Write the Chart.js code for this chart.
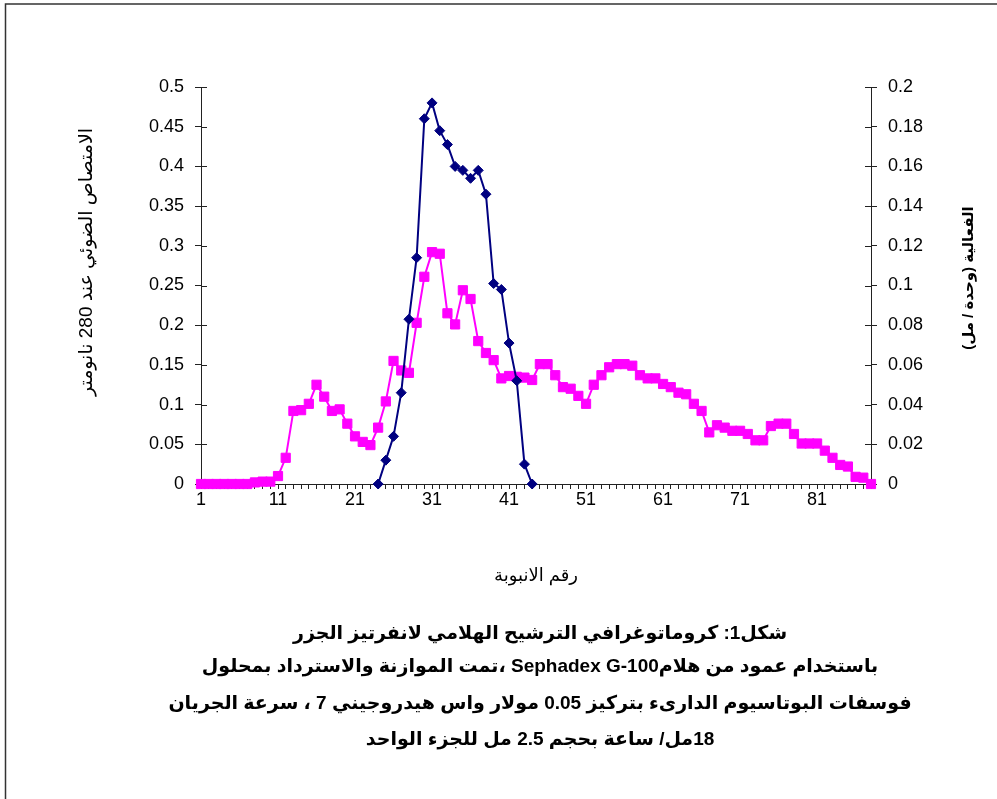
<!DOCTYPE html>
<html lang="ar">
<head>
<meta charset="utf-8">
<script src="https://cdn.jsdelivr.net/npm/chart.js@4.4.1/dist/chart.umd.min.js"></script>
<style>
  html, body { margin: 0; padding: 0; background: #fff; }
  #wadah { position: relative; width: 997px; height: 799px; }
</style>
</head>
<body>
<div id="wadah"><canvas id="chartFraksi" width="997" height="799"></canvas></div>
<script>
// nomor tabung fraksi (sumbu x)
const nomorTabung = [
  1, 2, 3, 4, 5, 6, 7, 8, 9, 10, 11, 12, 13, 14, 15, 16, 17, 18, 19, 20,
  21, 22, 23, 24, 25, 26, 27, 28, 29, 30, 31, 32, 33, 34, 35, 36, 37, 38, 39, 40,
  41, 42, 43, 44, 45, 46, 47, 48, 49, 50, 51, 52, 53, 54, 55, 56, 57, 58, 59, 60,
  61, 62, 63, 64, 65, 66, 67, 68, 69, 70, 71, 72, 73, 74, 75, 76, 77, 78, 79, 80,
  81, 82, 83, 84, 85, 86, 87, 88
];

// absorbansi 280 nm (sumbu kiri)
const absorbansi280 = [
  0, 0, 0, 0, 0, 0, 0, 0.002, 0.003, 0.003,
  0.010, 0.033, 0.092, 0.093, 0.101, 0.125, 0.110, 0.092, 0.094, 0.076,
  0.060, 0.053, 0.049, 0.071, 0.104, 0.155, 0.143, 0.140, 0.203, 0.261,
  0.292, 0.290, 0.215, 0.201, 0.244, 0.233, 0.180, 0.165, 0.156, 0.133,
  0.136, 0.135, 0.134, 0.131, 0.151, 0.151, 0.137, 0.122, 0.120, 0.111,
  0.101, 0.125, 0.137, 0.147, 0.151, 0.151, 0.149, 0.137, 0.133, 0.133,
  0.126, 0.122, 0.115, 0.113, 0.101, 0.092, 0.065, 0.074, 0.071, 0.067,
  0.067, 0.063, 0.055, 0.055, 0.073, 0.076, 0.076, 0.063, 0.051, 0.051,
  0.051, 0.042, 0.033, 0.024, 0.022, 0.009, 0.008, 0
];

// aktivitas enzim unit/ml (sumbu kanan), hanya tabung 24-44
const aktivitasEnzim = [
  null, null, null, null, null, null, null, null, null, null,
  null, null, null, null, null, null, null, null, null, null,
  null, null, null, 0, 0.012, 0.024, 0.046, 0.083, 0.114, 0.184,
  0.192, 0.178, 0.171, 0.160, 0.158, 0.154, 0.158, 0.146, 0.101, 0.098,
  0.071, 0.052, 0.010, 0, null, null, null, null, null, null,
  null, null, null, null, null, null, null, null, null, null,
  null, null, null, null, null, null, null, null, null, null,
  null, null, null, null, null, null, null, null, null, null,
  null, null, null, null, null, null, null, null
];

const tickKiri = [0, 0.05, 0.1, 0.15, 0.2, 0.25, 0.3, 0.35, 0.4, 0.45, 0.5];
const tickKanan = [0, 0.02, 0.04, 0.06, 0.08, 0.1, 0.12, 0.14, 0.16, 0.18, 0.2];
const labelSumbuX = [1, 11, 21, 31, 41, 51, 61, 71, 81];

const judulKiri = 'الامتصاص الضوئي عند 280 نانومتر';
const judulKanan = 'الفعالية (وحدة / مل)';
const judulBawah = 'رقم الانبوبة';

// keterangan gambar (4 baris)
const keterangan = [
  'شكل1: كروماتوغرافي الترشيح الهلامي لانفرتيز الجزر',
  'باستخدام عمود من هلامSephadex G-100 ،تمت الموازنة والاسترداد بمحلول',
  'فوسفات البوتاسيوم الدارىء بتركيز 0.05 مولار واس هيدروجيني 7 ، سرعة الجريان',
  '18مل/ ساعة بحجم 2.5 مل للجزء الواحد'
];

const fontDasar = "'Liberation Sans', Arial, 'DejaVu Sans', sans-serif";
const warnaSumbu = '#222';

const hiasanGrafik = {
  id: 'hiasanGrafik',
  beforeDatasetsDraw(chart) {
    const c = chart.ctx;
    const area = chart.chartArea;
    const yKiri = chart.scales.y;
    const yKanan = chart.scales.y1;
    c.save();
    c.strokeStyle = warnaSumbu;
    c.lineWidth = 1;
    // sisi dalam tanda tick (tick menyilang)
    yKiri.ticks.forEach(t => {
      const py = Math.round(yKiri.getPixelForValue(t.value)) + 0.5;
      c.beginPath();
      c.moveTo(area.left, py);
      c.lineTo(area.left + 6, py);
      c.stroke();
    });
    yKanan.ticks.forEach(t => {
      const py = Math.round(yKanan.getPixelForValue(t.value)) + 0.5;
      c.beginPath();
      c.moveTo(area.right - 6, py);
      c.lineTo(area.right, py);
      c.stroke();
    });
    c.restore();
  },
  afterDraw(chart) {
    const c = chart.ctx;
    c.save();

    // bingkai atas dan kiri
    c.strokeStyle = '#333';
    c.lineWidth = 1.5;
    c.beginPath();
    c.moveTo(5.5, 799);
    c.lineTo(5.5, 4);
    c.lineTo(997, 4);
    c.stroke();

    c.fillStyle = '#000';
    c.textAlign = 'center';
    c.textBaseline = 'middle';
    c.direction = 'rtl';

    // judul sumbu y, diputar
    c.save();
    c.translate(87, 262);
    c.rotate(-Math.PI / 2);
    c.font = '19px ' + fontDasar;
    c.fillText(judulKiri, 0, 0);
    c.restore();

    c.save();
    c.translate(969, 278);
    c.rotate(-Math.PI / 2);
    c.font = 'bold 15px ' + fontDasar;
    c.fillText(judulKanan, 0, 0);
    c.restore();

    // keterangan di bawah grafik
    c.font = 'bold 19px ' + fontDasar;
    const posY = [634, 667, 704, 740];
    keterangan.forEach((baris, i) => {
      c.fillText(baris, 540, posY[i]);
    });

    c.restore();
  }
};

const ctx = document.getElementById('chartFraksi').getContext('2d');

new Chart(ctx, {
  type: 'line',
  data: {
    labels: nomorTabung,
    datasets: [
      {
        label: judulKiri,
        data: absorbansi280,
        yAxisID: 'y',
        borderColor: '#ff00ff',
        backgroundColor: '#ff00ff',
        borderWidth: 2,
        pointStyle: 'rect',
        pointRadius: 6.5,
        pointBorderWidth: 1,
        tension: 0,
        clip: false,
        order: 1
      },
      {
        label: judulKanan,
        data: aktivitasEnzim,
        yAxisID: 'y1',
        borderColor: '#000080',
        backgroundColor: '#000080',
        borderWidth: 2,
        pointStyle: 'rectRot',
        pointRadius: 5,
        pointBorderWidth: 1,
        tension: 0,
        clip: false,
        order: 0
      }
    ]
  },
  options: {
    responsive: false,
    animation: false,
    layout: {
      padding: { left: 0, right: 0, top: 87, bottom: 0 }
    },
    plugins: {
      legend: { display: false },
      tooltip: { enabled: false }
    },
    scales: {
      x: {
        type: 'category',
        offset: false,
        border: { display: true, color: warnaSumbu, width: 1 },
        grid: { drawOnChartArea: false, drawTicks: true, tickLength: 5, color: warnaSumbu },
        ticks: {
          autoSkip: false,
          maxRotation: 0,
          minRotation: 0,
          padding: 0,
          color: '#000',
          font: { family: fontDasar, size: 18 },
          callback: function(val, i) {
            const n = nomorTabung[i];
            return labelSumbuX.includes(n) ? String(n) : '';
          }
        },
        title: {
          display: true,
          text: judulBawah,
          color: '#000',
          font: { family: fontDasar, size: 18 },
          padding: { top: 0, bottom: 212 }
        },
        afterFit: function(scale) {
          scale.height = 315;
        }
      },
      y: {
        position: 'left',
        min: 0,
        max: 0.5,
        border: { display: true, color: warnaSumbu, width: 1 },
        grid: { drawOnChartArea: false, tickLength: 6, color: warnaSumbu },
        afterBuildTicks: function(scale) {
          scale.ticks = tickKiri.map(v => ({ value: v }));
        },
        ticks: {
          padding: 11,
          color: '#000',
          font: { family: fontDasar, size: 18 },
          callback: v => String(v)
        },
        afterFit: function(scale) {
          scale.width = 201;
        }
      },
      y1: {
        position: 'right',
        min: 0,
        max: 0.2,
        border: { display: true, color: warnaSumbu, width: 1 },
        grid: { drawOnChartArea: false, tickLength: 6, color: warnaSumbu },
        afterBuildTicks: function(scale) {
          scale.ticks = tickKanan.map(v => ({ value: v }));
        },
        ticks: {
          padding: 11,
          color: '#000',
          font: { family: fontDasar, size: 18 },
          callback: v => String(v)
        },
        afterFit: function(scale) {
          scale.width = 126;
        }
      }
    }
  },
  plugins: [hiasanGrafik]
});
</script>
</body>
</html>
